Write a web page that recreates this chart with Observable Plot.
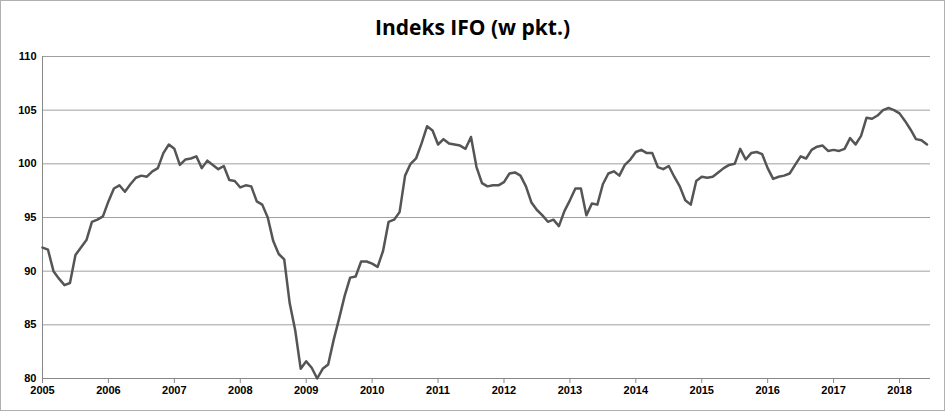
<!DOCTYPE html>
<html><head><meta charset="utf-8">
<script src="https://cdn.jsdelivr.net/npm/d3@7"></script>
<script src="https://cdn.jsdelivr.net/npm/@observablehq/plot@0.6"></script>
<style>
body{margin:0;background:#fff;font-family:"Liberation Sans",Arial,sans-serif}
#wrap{width:943px;height:409px;border:1px solid #b0b0b0;position:relative;overflow:hidden}
#title{height:45px;line-height:52px;text-align:center;font-family:"Open Sans",sans-serif;font-weight:bold;font-size:21px;color:#000}
</style></head><body>
<div id="wrap"><div id="title">Indeks IFO (w pkt.)</div><div id="chart"></div></div>
<script>
const startYear = 2005;
const ifo = [
92.2,92.0,90.0,89.3,88.7,88.9,91.5,92.2,92.9,94.6,94.8,95.1,
96.5,97.7,98.0,97.4,98.1,98.7,98.9,98.8,99.3,99.6,101.0,101.8,
101.4,99.9,100.4,100.5,100.7,99.6,100.3,99.9,99.5,99.8,98.5,98.4,
97.8,98.0,97.9,96.5,96.2,95.0,92.8,91.6,91.1,87.0,84.5,80.9,
81.6,81.0,80.0,80.9,81.3,83.6,85.6,87.7,89.4,89.5,90.9,90.9,
90.7,90.4,91.9,94.6,94.8,95.5,98.9,100.0,100.5,101.9,103.5,103.1,
101.8,102.3,101.9,101.8,101.7,101.4,102.5,99.7,98.2,97.9,98.0,98.0,
98.3,99.1,99.2,98.9,97.9,96.4,95.7,95.2,94.6,94.8,94.2,95.6,
96.6,97.7,97.7,95.2,96.3,96.2,98.1,99.1,99.3,98.9,99.9,100.4,
101.1,101.3,101.0,101.0,99.7,99.5,99.8,98.8,97.9,96.6,96.2,98.4,
98.8,98.7,98.8,99.2,99.6,99.9,100.0,101.4,100.4,101.0,101.1,100.9,
99.6,98.6,98.8,98.9,99.1,99.9,100.7,100.5,101.3,101.6,101.7,101.2,
101.3,101.2,101.4,102.4,101.8,102.6,104.3,104.2,104.5,105.0,105.2,105.0,
104.7,104.0,103.2,102.3,102.2,101.8];
const yearTicks = d3.range(2005, 2019);
const yTicks = [80,85,90,95,100,105,110];
const data = ifo.map((v,i)=>({t: startYear + i/12, v}));
const chart = Plot.plot({
  width: 943, height: 364,
  marginTop: 10, marginBottom: 32, marginLeft: 41, marginRight: 14,
  x: {domain:[2005, 2018.47], ticks: yearTicks, tickFormat: d=>String(d), tickSize:5, label:null},
  y: {domain:[80,110], ticks: yTicks, tickSize:0, label:null},
  style:{fontFamily:"Liberation Sans, Arial, sans-serif", fontSize:"11px", fontWeight:"bold", color:"#000"},
  marks:[
    Plot.gridY(yTicks,{stroke:"#a0a0a0", strokeOpacity:1}),
    Plot.ruleX([2005],{stroke:"#888"}),
    Plot.ruleY([80],{stroke:"#888"}),
    Plot.axisX({ticks:yearTicks, tickFormat:d=>String(d), stroke:"#888", tickSize:5, tickPadding:3}),
    Plot.axisY({ticks:yTicks, tickSize:0, tickPadding:6}),
    Plot.line(data,{x:"t", y:"v", stroke:"#555", strokeWidth:2.5})
  ]
});
document.getElementById("chart").append(chart);
</script></body></html>
